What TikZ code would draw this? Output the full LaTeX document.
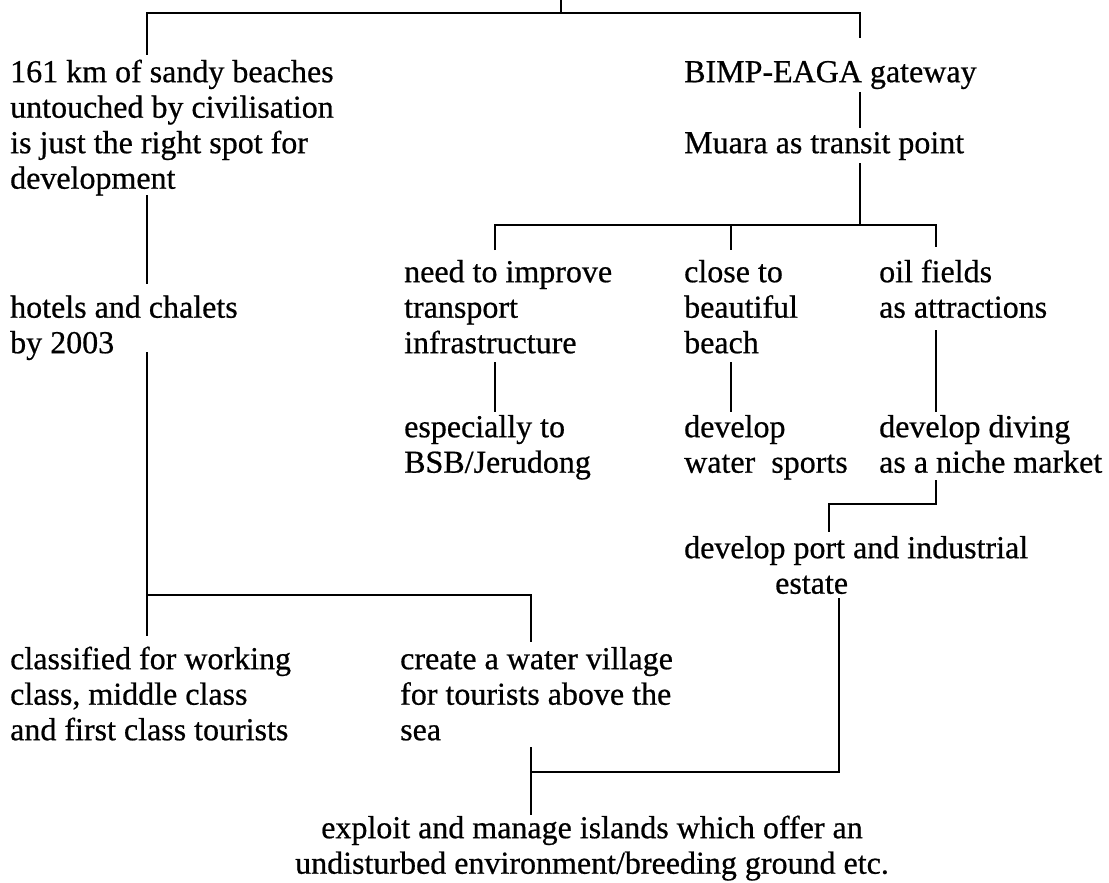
\documentclass[tikz,border=0pt]{standalone}
\usepackage{fontspec}
\setmainfont{Liberation Serif}[AutoFakeBold=0.6]
\begin{document}
\begin{tikzpicture}[x=1pt,y=-1pt,
  txt/.style={anchor=north west, inner sep=0pt, align=left, yshift=24.85pt,
    font=\fontsize{32}{35.5}\selectfont\bfseries},
  ctxt/.style={txt, anchor=north, align=center},
  link/.style={line width=2.5pt}]
\useasboundingbox (0,0) rectangle (1109,883);

% text blocks (coordinates give the first baseline)
\node[txt] (beach)  at (10,82)   {\strut 161 km of sandy beaches\\untouched by civilisation\\is just the right spot for\\development};
\node[txt] (bimp)   at (684,82)  {\strut BIMP-EAGA gateway};
\node[txt] (muara)  at (684,153) {\strut Muara as transit point};
\node[txt] (hotel)  at (10,317.5) {\strut hotels and chalets\\by 2003};
\node[txt] (need)   at (404,282) {\strut need to improve\\transport\\infrastructure};
\node[txt] (close)  at (684,282) {\strut close to\\beautiful\\beach};
\node[txt] (oil)    at (879,282) {\strut oil fields\\as attractions};
\node[txt] (esp)    at (404,437) {\strut especially to\\BSB/Jerudong};
\node[txt] (sport)  at (684,437) {\strut develop\\water\ \ sports};
\node[txt] (dive)   at (879,437) {\strut develop diving\\as a niche market};
\node[txt] (port)   at (684,558) {\strut develop port and industrial\\\hspace*{91pt}estate};
\node[txt] (class)  at (10,669)  {\strut classified for working\\class, middle class\\and first class tourists};
\node[txt] (village) at (400,669) {\strut create a water village\\for tourists above the\\sea};
\node[ctxt] (island) at (592,838) {\strut exploit and manage islands which offer an\\undisturbed environment/breeding ground etc.};

% junction points of the connectors
\coordinate (root)   at (561,0);
\coordinate (rootJ)  at (561,13);
\coordinate (topL)   at (147,13);
\coordinate (topLe)  at (147,55);
\coordinate (topR)   at (860,13);
\coordinate (topRe)  at (860,38);
\coordinate (bimpS)  at (860,92);
\coordinate (muaraN) at (860,128);
\coordinate (muaraS) at (860,163);
\coordinate (midJ)   at (860,225);
\coordinate (needJ)  at (495,225);
\coordinate (needN)  at (495,250);
\coordinate (closeJ) at (731,225);
\coordinate (closeN) at (731,250);
\coordinate (oilJ)   at (936,225);
\coordinate (oilN)   at (936,247);
\coordinate (beachS) at (147,195);
\coordinate (hotelN) at (147,284);
\coordinate (hotelS) at (147,352);
\coordinate (leftJ)  at (147,595);
\coordinate (classN) at (147,636);
\coordinate (villJ)  at (531,595);
\coordinate (villN)  at (531,642);
\coordinate (needS)  at (495,362);
\coordinate (espN)   at (495,412);
\coordinate (closeS) at (731,362);
\coordinate (sportN) at (731,412);
\coordinate (oilS)   at (936,330);
\coordinate (diveN)  at (936,412);
\coordinate (diveS)  at (936,480);
\coordinate (diveJ)  at (936,504);
\coordinate (portJ)  at (829,504);
\coordinate (portN)  at (829,532);
\coordinate (portS)  at (839,598);
\coordinate (portJ2) at (839,772);
\coordinate (islJ)   at (531,772);
\coordinate (villS)  at (531,747);
\coordinate (islN)   at (531,815);

% connectors
\draw[link] (root) -- (rootJ);
\draw[link] (topLe) -- (topL) -- (topR) -- (topRe);
\draw[link] (bimpS) -- (muaraN);
\draw[link] (muaraS) -- (midJ);
\draw[link] (needN) -- (needJ) -- (oilJ) -- (oilN);
\draw[link] (closeJ) -- (closeN);
\draw[link] (beachS) -- (hotelN);
\draw[link] (hotelS) -- (classN);
\draw[link] (leftJ) -- (villJ) -- (villN);
\draw[link] (needS) -- (espN);
\draw[link] (closeS) -- (sportN);
\draw[link] (oilS) -- (diveN);
\draw[link] (diveS) -- (diveJ) -- (portJ) -- (portN);
\draw[link] (portS) -- (portJ2) -- (islJ);
\draw[link] (villS) -- (islN);
\end{tikzpicture}
\end{document}
